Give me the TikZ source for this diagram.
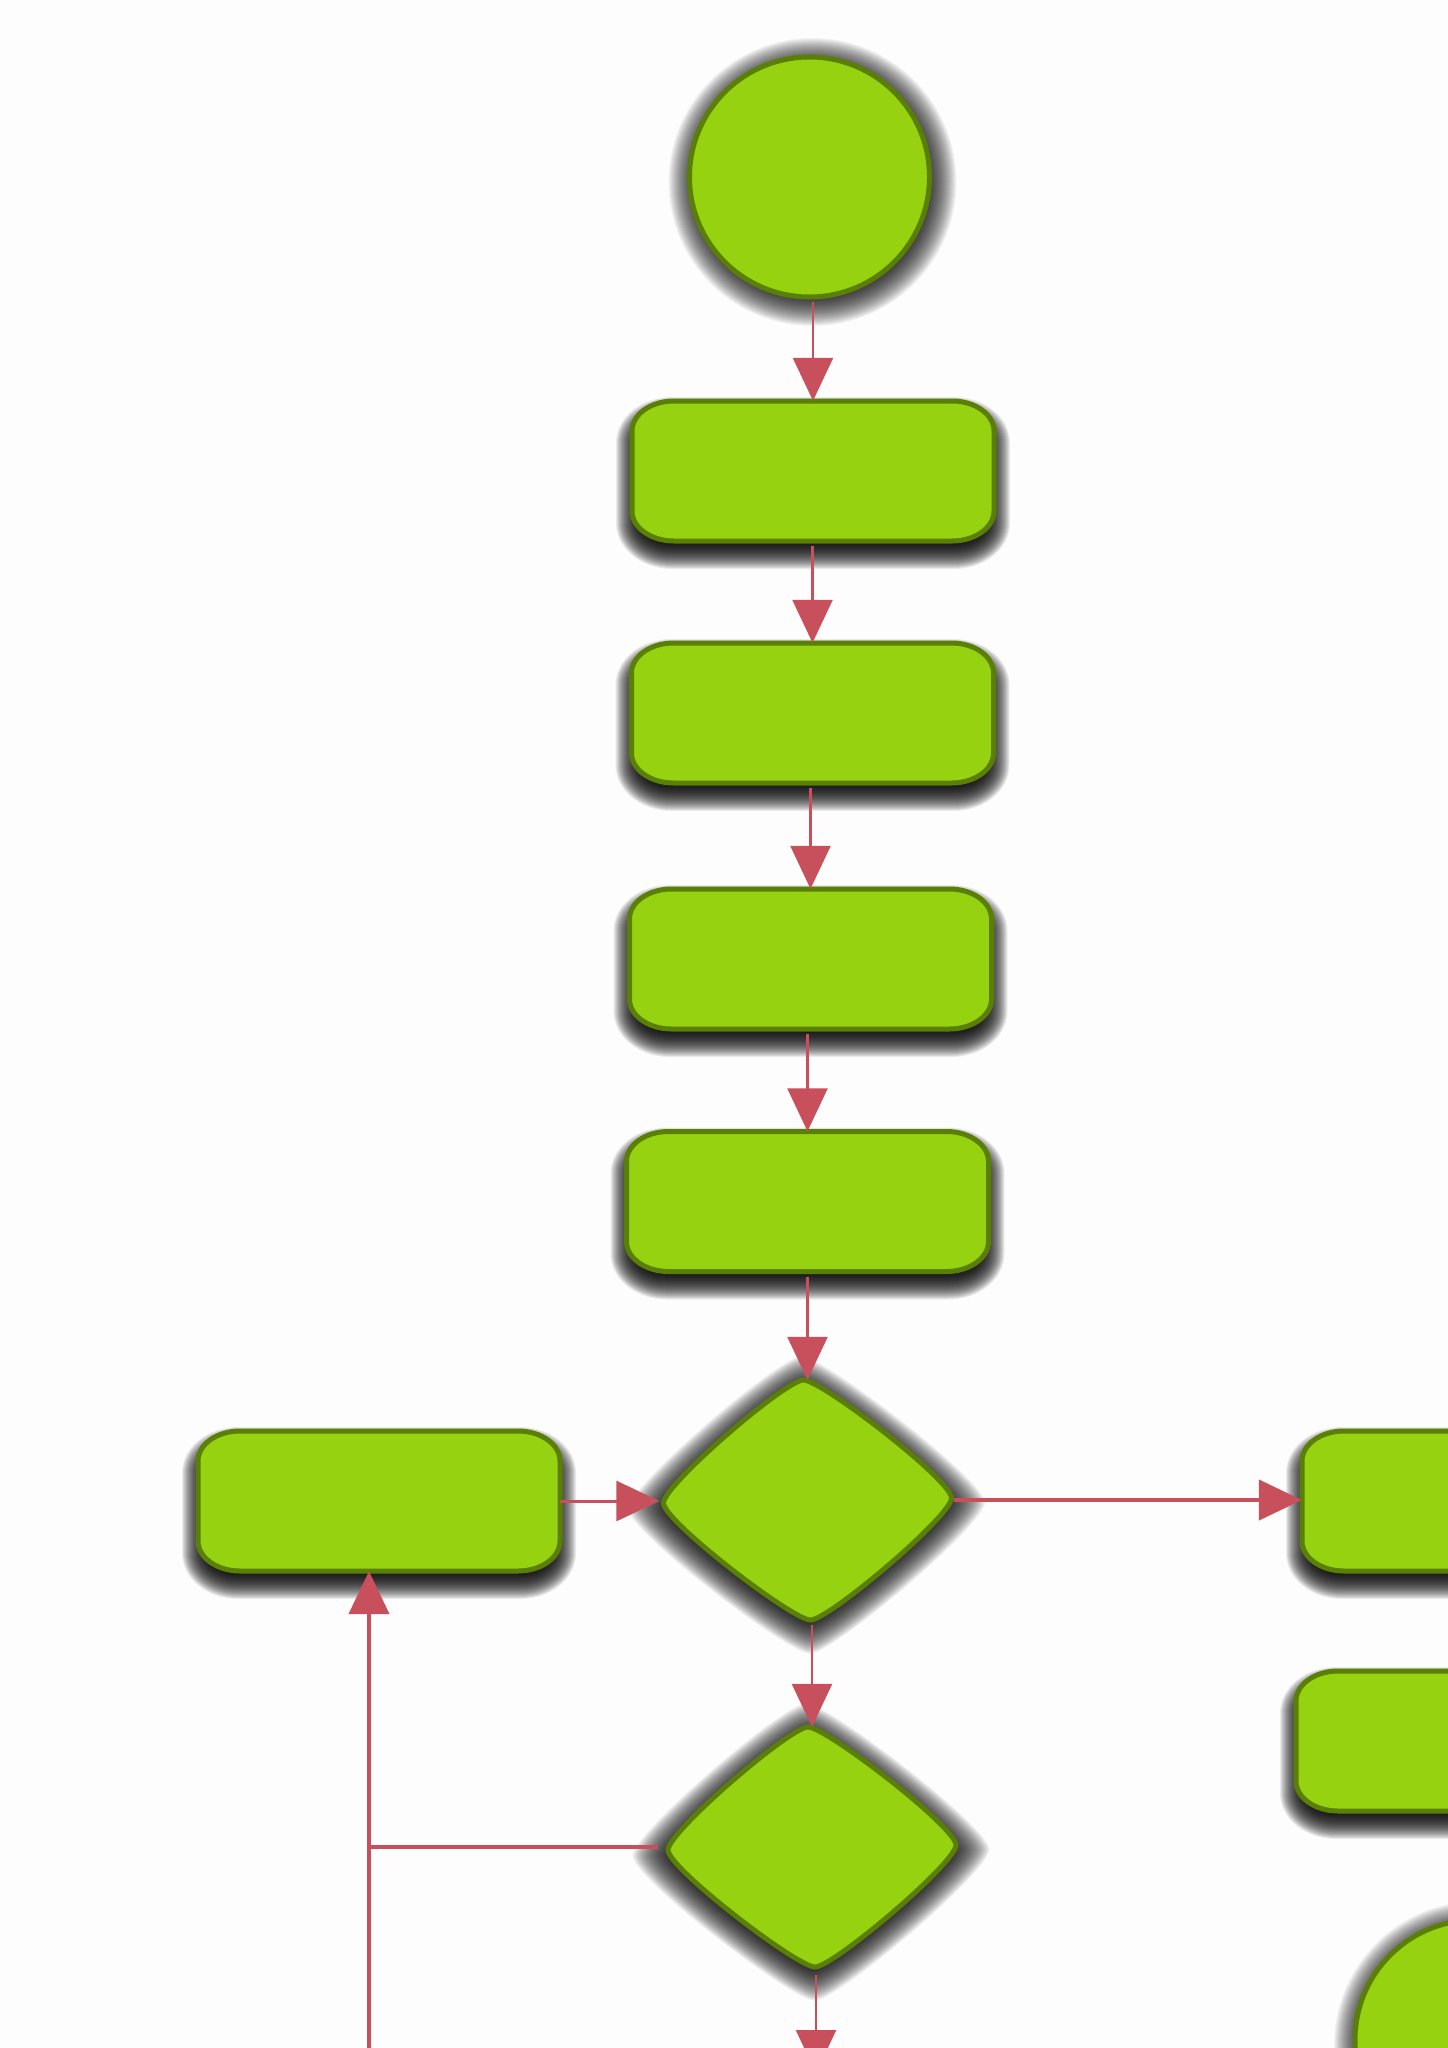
\documentclass[tikz,border=0pt]{standalone}
\usetikzlibrary{arrows.meta,shapes.geometric,calc}
\definecolor{gfill}{HTML}{97D210}
\definecolor{gline}{HTML}{5A7F05}
\definecolor{ared}{HTML}{C7505C}
\definecolor{bgc}{HTML}{FDFDFD}
\tikzset{
  shapebase/.style={fill=gfill, draw=gline, line width=5pt},
  shadowlayer/.style={fill=black, fill opacity=#1, draw=none},
  boxanchor/.style={rectangle, minimum width=362pt, minimum height=140pt, inner sep=0pt, draw=none},
  diaanchor/.style={diamond, minimum width=288pt, minimum height=240pt, inner sep=0pt, draw=none},
  circanchor/.style={circle, minimum size=240pt, inner sep=0pt, draw=none},
  thinarrow/.style={draw=ared, line width=2.5pt, -{Triangle[length=43pt,width=40pt]}},
  midarrow/.style={draw=ared, line width=3pt, -{Triangle[length=43pt,width=40pt]}},
  thickarrow/.style={draw=ared, line width=4.5pt, -{Triangle[length=43pt,width=40pt]}},
  thickline/.style={draw=ared, line width=4.5pt},
}
% rounded rectangle with elliptical corners, centred at origin: half width, half height, rx, ry
\newcommand\rrpath[4]{%
  ({-(#1)},{-(#2)+(#4)}) .. controls ({-(#1)},{-(#2)+0.448*(#4)}) and ({-(#1)+0.448*(#3)},{-(#2)}) .. ({-(#1)+(#3)},{-(#2)})
  -- ({(#1)-(#3)},{-(#2)}) .. controls ({(#1)-0.448*(#3)},{-(#2)}) and ({(#1)},{-(#2)+0.448*(#4)}) .. ({(#1)},{-(#2)+(#4)})
  -- ({(#1)},{(#2)-(#4)}) .. controls ({(#1)},{(#2)-0.448*(#4)}) and ({(#1)-0.448*(#3)},{(#2)}) .. ({(#1)-(#3)},{(#2)})
  -- ({-(#1)+(#3)},{(#2)}) .. controls ({-(#1)+0.448*(#3)},{(#2)}) and ({-(#1)},{(#2)-0.448*(#4)}) .. ({-(#1)},{(#2)-(#4)})
  -- cycle}
% rounded diamond with slightly convex sides, centred at origin
\newcommand\diapath{%
  (-4,-120) .. controls (14,-120) and (144,-20) .. (144,-2)
  .. controls (144,16) and (21,120) .. (3,120)
  .. controls (-15,120) and (-144,21) .. (-144,3)
  .. controls (-144,-15) and (-22,-120) .. (-4,-120) -- cycle}
\newcommand\flowbox[3]{%
  \node[boxanchor] (#1) at (#2,#3) {};
  \foreach \s in {-15,-14,...,16}
    \fill[shadowlayer=0.075, shift={(#1.center)}, shift={(0,12)}] \rrpath{181+\s}{70+\s}{40+\s}{30+\s};
  \path[shapebase, shift={(#1.center)}] \rrpath{181}{70}{42}{30};
}
\newcommand\flowdia[3]{%
  \node[diaanchor] (#1) at (#2,#3) {};
  \foreach \s in {-12,-11,...,22}
    \fill[shadowlayer=0.06, shift={(#1.center)}, shift={(-1,5)}, scale={1+\s/92}] \diapath;
  \path[shapebase, shift={(#1.center)}] \diapath;
}
\newcommand\flowcirc[3]{%
  \node[circanchor] (#1) at (#2,#3) {};
  \foreach \s in {-15,-14,...,24}
    \fill[shadowlayer=0.045] ([shift={(3,5)}]#1.center) circle[radius={120+\s}];
  \path[shapebase] (#1.center) circle[radius=120];
}
\begin{document}
\begin{tikzpicture}[x=1pt,y=-1pt]
\useasboundingbox (0,0) rectangle (1448,2048);
\fill[bgc] (0,0) rectangle (1448,2048);
\clip (0,0) rectangle (1448,2048);

% shapes
\flowcirc{c1}{809.5}{177}
\flowbox{b1}{813}{471}
\flowbox{b2}{812.5}{713}
\flowbox{b3}{810.5}{959}
\flowbox{b4}{807.5}{1201.5}
\flowbox{lb}{379}{1501}
\flowbox{rb1}{1483}{1501}
\flowbox{rb2}{1477}{1741}
\flowdia{d1}{807.5}{1500}
\flowdia{d2}{812}{1847}
\flowcirc{c2}{1475}{2040}

% free ends
\coordinate (offd) at (816,2073);
\coordinate (loopbot) at (369,2100);

% connectors
\draw[thinarrow, shorten <=5pt] (c1.south -| b1.north) -- (b1.north);
\draw[thinarrow, shorten <=5pt] (b1.south -| b2.north) -- (b2.north);
\draw[thinarrow, shorten <=5pt] (b2.south -| b3.north) -- (b3.north);
\draw[thinarrow, shorten <=5pt] (b3.south -| b4.north) -- (b4.north);
\draw[thinarrow, shorten <=5pt] (b4.south -| d1.north) -- (d1.north);
\draw[thinarrow, shorten <=5pt] (d1.south -| d2.north) -- (d2.north);
\draw[thinarrow, shorten <=8pt] (d2.south -| offd) -- (offd);
\draw[midarrow, shorten >=4pt] (lb.east) -- (lb.east -| d1.west);
\draw[thickarrow, shorten <=2pt] (d1.east) -- (d1.east -| rb1.west);
\draw[thickline, shorten <=10pt] (d2.west) -- (d2.west -| loopbot);
\draw[thickarrow] (loopbot) -- (loopbot |- lb.south);
\end{tikzpicture}
\end{document}
